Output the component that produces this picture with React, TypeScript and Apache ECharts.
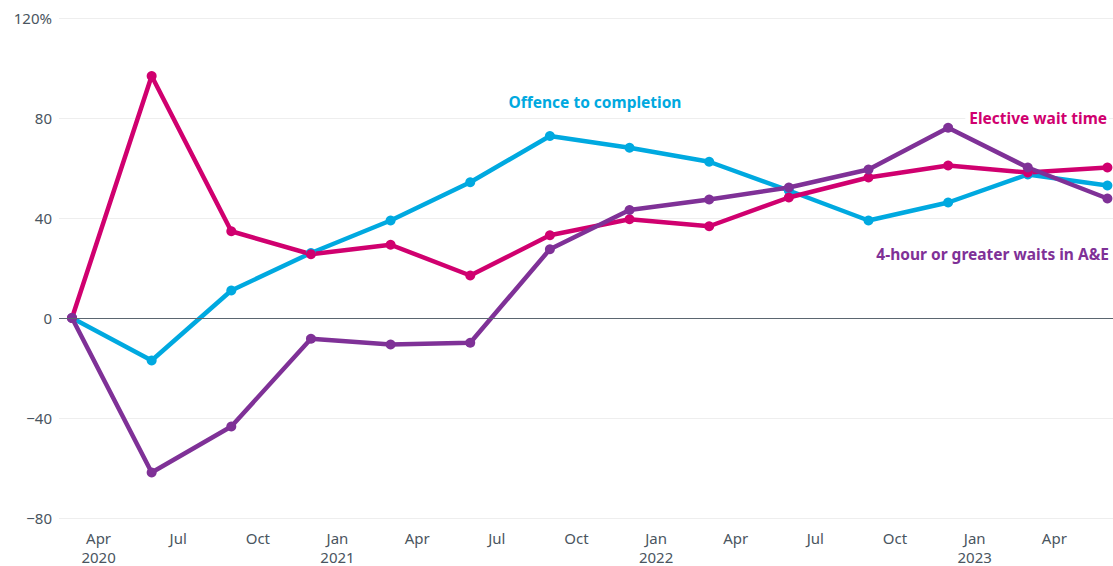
import React, { useEffect, useRef } from "react";
import * as echarts from "echarts";

// Month index counted from Jan 2020 = 0; data points are quarterly
const months = [2, 5, 8, 11, 14, 17, 20, 23, 26, 29, 32, 35, 38, 41];
const offenceToCompletion = [0, -17, 11, 26, 39, 54.3, 72.8, 68.1, 62.5, 51, 39, 46.2, 57.4, 53];
const electiveWaitTime = [0, 96.8, 34.7, 25.5, 29.3, 17, 33.1, 39.5, 36.7, 48.2, 56.2, 61, 58.2, 60.2];
const aeWaits = [0, -61.8, -43.4, -8.3, -10.6, -9.9, 27.5, 43.2, 47.4, 52.2, 59.4, 76.1, 60.2, 47.8];

const tickMonths = [3, 6, 9, 12, 15, 18, 21, 24, 27, 30, 33, 36, 39];
const tickLabels = [
  "Apr\n2020", "Jul", "Oct", "Jan\n2021", "Apr", "Jul", "Oct",
  "Jan\n2022", "Apr", "Jul", "Oct", "Jan\n2023", "Apr",
];
const yTicks = [-80, -40, 0, 40, 80, 120];

const seriesNames = ["Offence to completion", "Elective wait time", "4-hour or greater waits in A&E"];
const colors = ["#00a9e0", "#d0006f", "#7f3197"];

export default function App() {
  const ref = useRef<HTMLDivElement>(null);
  useEffect(() => {
    if (!ref.current) return;
    const chart = echarts.init(ref.current, null, { renderer: "svg" });
    const font = "'Noto Sans', sans-serif";
    const mk = (name: string, vals: number[], color: string) => ({
      name,
      type: "line",
      data: months.map((m, i) => [m, vals[i]]),
      symbol: "circle",
      symbolSize: 10,
      lineStyle: { color, width: 4.5 },
      itemStyle: { color },
      z: 3,
    });
    chart.setOption({
      animation: false,
      grid: { left: 59, right: 0, top: 18, bottom: 44 },
      xAxis: {
        type: "value",
        min: 1.51,
        max: 41.21,
        axisLine: { show: false },
        axisTick: { show: false },
        splitLine: { show: false },
        axisLabel: {
          customValues: tickMonths,
          formatter: (v: number) => tickLabels[tickMonths.indexOf(Math.round(v))] ?? "",
          color: "#4a5560",
          fontSize: 15,
          fontFamily: font,
          lineHeight: 19,
          margin: 10,
        },
      },
      yAxis: {
        type: "value",
        min: yTicks[0],
        max: yTicks[yTicks.length - 1],
        interval: 40,
        axisLine: { show: false },
        axisTick: { show: false },
        splitLine: { lineStyle: { color: "#eeeeee", width: 1 } },
        axisLabel: {
          formatter: (v: number) => (v === 120 ? "120%" : v < 0 ? "\u2212" + Math.abs(v) : String(v)),
          color: "#4a5560",
          fontSize: 15,
          fontFamily: font,
          margin: 7,
        },
      },
      series: [
        {
          type: "line",
          data: [],
          silent: true,
          z: 1,
          markLine: {
            silent: true,
            symbol: "none",
            label: { show: false },
            lineStyle: { color: "#5b6670", width: 1, type: "solid" },
            data: [{ yAxis: 0 }],
          },
        },
        mk(seriesNames[0], offenceToCompletion, colors[0]),
        mk(seriesNames[1], electiveWaitTime, colors[1]),
        mk(seriesNames[2], aeWaits, colors[2]),
      ],
      graphic: [
        {
          type: "text",
          x: 595,
          y: 102,
          z: 10,
          style: {
            text: seriesNames[0],
            fill: colors[0],
            font: `bold 15.5px ${font}`,
            textAlign: "center",
            textVerticalAlign: "middle",
          },
        },
        {
          type: "text",
          x: 1109,
          y: 118,
          z: 10,
          style: {
            text: seriesNames[1],
            fill: colors[1],
            font: `bold 15.5px ${font}`,
            textAlign: "right",
            textVerticalAlign: "middle",
            backgroundColor: "#ffffff",
            padding: [2, 2, 2, 4],
          },
        },
        {
          type: "text",
          x: 1109,
          y: 254,
          z: 10,
          style: {
            text: seriesNames[2],
            fill: colors[2],
            font: `bold 15.5px ${font}`,
            textAlign: "right",
            textVerticalAlign: "middle",
          },
        },
      ],
    });
    return () => chart.dispose();
  }, []);
  return (
    <div
      ref={ref}
      style={{ position: "fixed", left: 0, top: 0, width: 1113, height: 566, background: "#fff" }}
    />
  );
}
